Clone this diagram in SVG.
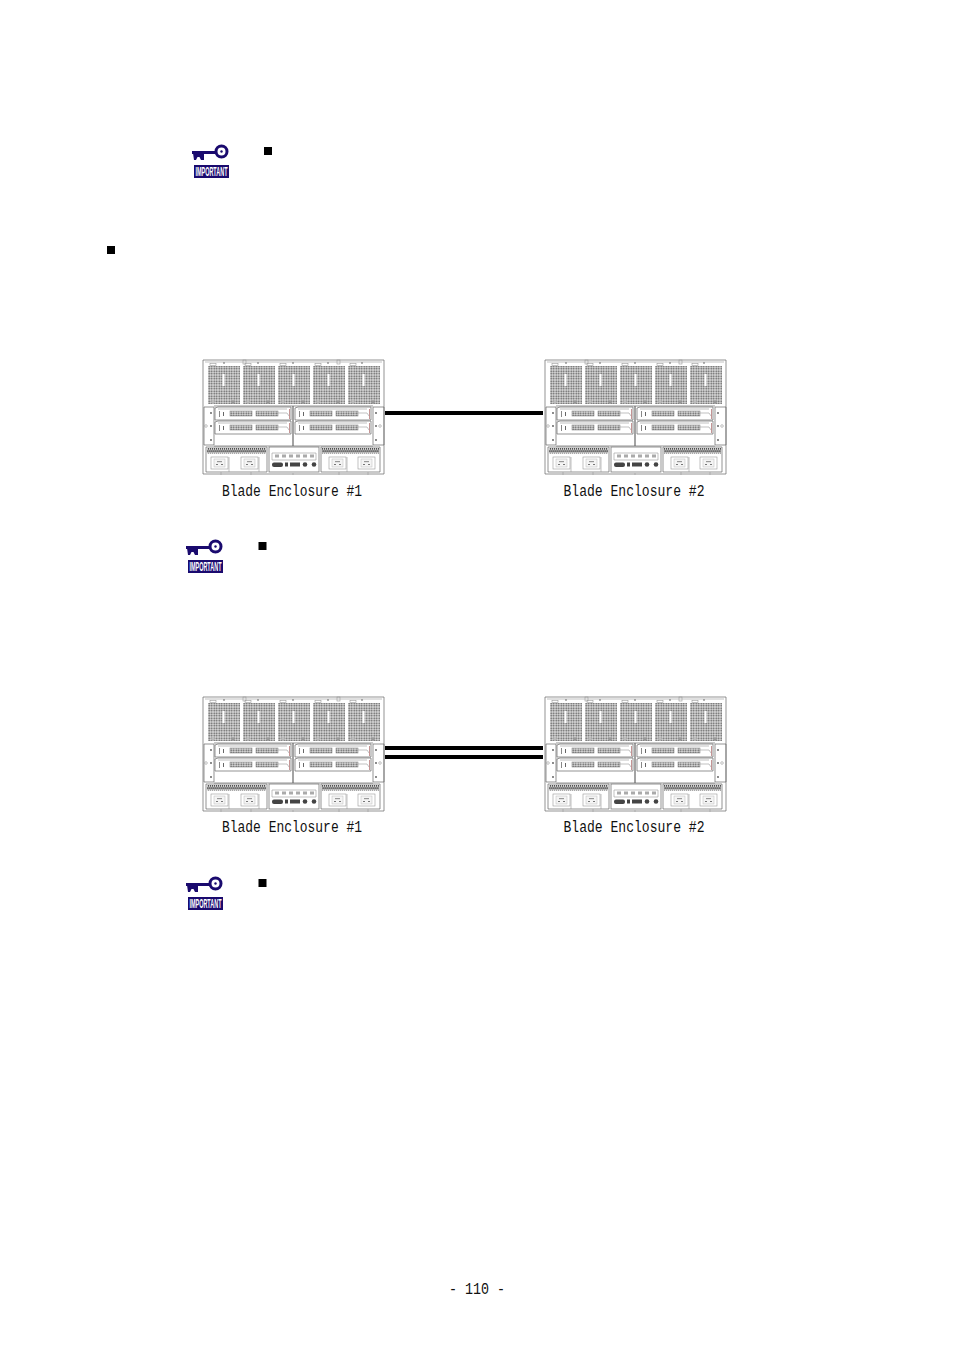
<svg xmlns="http://www.w3.org/2000/svg" xmlns:xlink="http://www.w3.org/1999/xlink" width="954" height="1351" viewBox="0 0 954 1351">
<style>
.l{fill:none;stroke:#666;stroke-width:.7}
.t{fill:none;stroke:#999;stroke-width:.6}
.d{fill:#555}
.lab{font-family:"Liberation Mono",monospace;font-size:16px;fill:#111}
.imp{font-family:"Liberation Sans",sans-serif;font-weight:bold;font-size:12px;fill:#fff}
.nav{fill:#1a0a6e}
.b{fill:#000}
.c{stroke:#000;stroke-width:4;fill:none}
</style>
<defs>
<pattern id="g" width="2.5" height="2.5" patternUnits="userSpaceOnUse">
<rect width="2.5" height="2.5" fill="#ddd"/><circle cx="1.250" cy="1.250" r=".85" fill="#555"/>
</pattern>
<pattern id="v" width="2" height="5" patternUnits="userSpaceOnUse">
<rect width="2" height="5" fill="#ccc"/><rect x=".3" y=".2" width="1.200" height="1.900" fill="#444"/><rect x="1.100" y="2.800" width="1.200" height="1.900" fill="#444"/>
</pattern>
<g id="fan">
<rect x="0" y="1" width="32" height="38" fill="url(#g)"/>
<rect x="14.500" y="9" width="2" height="12" fill="#fff"/>
<rect x="2" y="-1.500" width="6" height="2" class="t"/>
<circle cx="25" cy="37" r="1.800" fill="#999"/>
<circle cx="5" cy="37" r="1.800" fill="#bbb"/>
</g>
<g id="mod">
<path class="l" d="M0 1L3 0H76V13H0Z"/>
<path class="t" d="M3 2H72"/>
<rect x="4" y="4" width="1" height="6" fill="#888"/>
<rect x="8" y="5" width="1" height="4" fill="#666"/>
<rect x="15" y="4" width="22" height="5" fill="url(#g)" stroke="#777" stroke-width=".5"/>
<rect x="41" y="4" width="22" height="5" fill="url(#g)" stroke="#777" stroke-width=".5"/>
<path class="t" d="M63 6H72L74 9"/>
<path stroke="#a66" stroke-width=".7" d="M74.500 2V12"/>
</g>
<g id="out">
<rect width="17" height="12" class="t"/>
<rect x="3" y="2" width="11" height="8" fill="#f4f4f4" stroke="#bbb" stroke-width=".5"/>
<rect x="6" y="4" width="5" height="1.200" fill="#999"/>
<rect x="5" y="7" width="2" height="1" fill="#777"/><rect x="10" y="7" width="2" height="1" fill="#777"/>
</g>
<g id="enc">
<path class="l" d="M0 0H181V114H0Z"/>
<path class="t" d="M2 2H179"/>
<g class="d"><circle cx="21" cy="3" r=".8"/><circle cx="55" cy="3" r=".8"/><circle cx="90" cy="3" r=".8"/><circle cx="125" cy="3" r=".8"/><circle cx="159" cy="3" r=".8"/></g>
<rect x="40" y="0" width="3" height="4" class="t"/><rect x="134" y="0" width="3" height="4" class="t"/>
<use xlink:href="#fan" href="#fan" x="5" y="5"/>
<use xlink:href="#fan" href="#fan" x="40" y="5"/>
<use xlink:href="#fan" href="#fan" x="75" y="5"/>
<use xlink:href="#fan" href="#fan" x="110" y="5"/>
<use xlink:href="#fan" href="#fan" x="145" y="5"/>
<path class="l" d="M1 47H11V85H1ZM170 47H181V85H170ZM11 46H170M11 86H170"/>
<path stroke="#666" stroke-width="1.200" d="M90 46V86"/>
<use xlink:href="#mod" href="#mod" x="12" y="47"/>
<use xlink:href="#mod" href="#mod" x="12" y="61"/>
<use xlink:href="#mod" href="#mod" x="92" y="47"/>
<use xlink:href="#mod" href="#mod" x="92" y="61"/>
<g class="d"><circle cx="8" cy="53" r=".9"/><circle cx="8" cy="66" r=".9"/><circle cx="8" cy="80" r=".9"/><circle cx="173" cy="53" r=".9"/><circle cx="173" cy="66" r=".9"/><circle cx="173" cy="80" r=".9"/></g>
<circle cx="3" cy="66" r="1.300" class="t"/><circle cx="177" cy="66" r="1.300" class="t"/>
<path class="l" d="M3 87H64V112H3ZM118 87H177V112H118Z"/>
<rect x="4" y="88" width="59" height="5.500" fill="url(#v)"/>
<rect x="119" y="88" width="57" height="5.500" fill="url(#v)"/>
<use xlink:href="#out" href="#out" x="8" y="97"/>
<use xlink:href="#out" href="#out" x="38" y="97"/>
<use xlink:href="#out" href="#out" x="126" y="97"/>
<use xlink:href="#out" href="#out" x="155" y="97"/>
<path class="t" d="M26 97V112M56 97V112M144 97V112"/>
<rect x="66" y="87" width="50" height="25" class="l"/>
<path class="t" d="M69 93H113V100H69Z"/>
<g fill="#aaa"><rect x="72" y="94.500" width="4" height="3"/><rect x="79" y="94.500" width="4" height="3"/><rect x="86" y="94.500" width="4" height="3"/><rect x="93" y="94.500" width="4" height="3"/><rect x="100" y="94.500" width="4" height="3"/><rect x="107" y="94.500" width="4" height="3"/></g>
<g fill="#444"><rect x="69" y="102.500" width="11" height="4.500" rx="2"/><rect x="82" y="102.500" width="3" height="4"/><rect x="87" y="102.500" width="10" height="4"/><circle cx="102" cy="104.500" r="2.300"/><circle cx="111" cy="104.500" r="2.300"/></g>
<path class="t" d="M18 112V115M48 112V115M90 113V115M136 112V115M165 112V115"/>
</g>
<g id="icon">
<rect class="nav" x="192" y="151" width="24" height="3"/>
<path class="nav" d="M193 153H204V160H201L199.500 157L197.500 157L196 160H194Z"/>
<circle cx="221.500" cy="151.500" r="5.500" fill="#fff" stroke="#1a0a6e" stroke-width="3"/>
<circle cx="221.500" cy="151.500" r="1.200" class="nav"/>
<rect class="nav" x="194" y="165" width="35" height="13"/>
<text class="imp" x="195.500" y="176" textLength="32" lengthAdjust="spacingAndGlyphs">IMPORTANT</text>
</g>
</defs>
<g id="icon1"><use xlink:href="#icon" href="#icon"/></g>
<rect class="b" x="264" y="147" width="8" height="8"/>
<rect class="b" x="107" y="246" width="8" height="8"/>
<g id="enclosure-1a"><use xlink:href="#enc" href="#enc" x="203" y="360"/><text class="lab" x="222" y="495.500" textLength="140" lengthAdjust="spacingAndGlyphs">Blade Enclosure #1</text></g>
<g id="enclosure-2a"><use xlink:href="#enc" href="#enc" x="545" y="360"/><text class="lab" x="563.500" y="495.500" textLength="141" lengthAdjust="spacingAndGlyphs">Blade Enclosure #2</text></g>
<g id="connectors">
<path class="c" d="M385 413H543"/>
<path class="c" d="M385 748H543"/>
<path class="c" d="M385 757H543"/>
</g>
<g id="icon2"><use xlink:href="#icon" href="#icon" x="-6" y="395"/></g>
<rect class="b" x="258.500" y="542" width="8" height="8"/>
<g id="enclosure-1b"><use xlink:href="#enc" href="#enc" x="203" y="697"/><text class="lab" x="222" y="831.500" textLength="140" lengthAdjust="spacingAndGlyphs">Blade Enclosure #1</text></g>
<g id="enclosure-2b"><use xlink:href="#enc" href="#enc" x="545" y="697"/><text class="lab" x="563.500" y="831.500" textLength="141" lengthAdjust="spacingAndGlyphs">Blade Enclosure #2</text></g>
<g id="icon3"><use xlink:href="#icon" href="#icon" x="-6" y="732"/></g>
<rect class="b" x="258.500" y="879" width="8" height="8"/>
<text class="lab" x="449" y="1294" textLength="56" lengthAdjust="spacingAndGlyphs">- 110 -</text>
</svg>
